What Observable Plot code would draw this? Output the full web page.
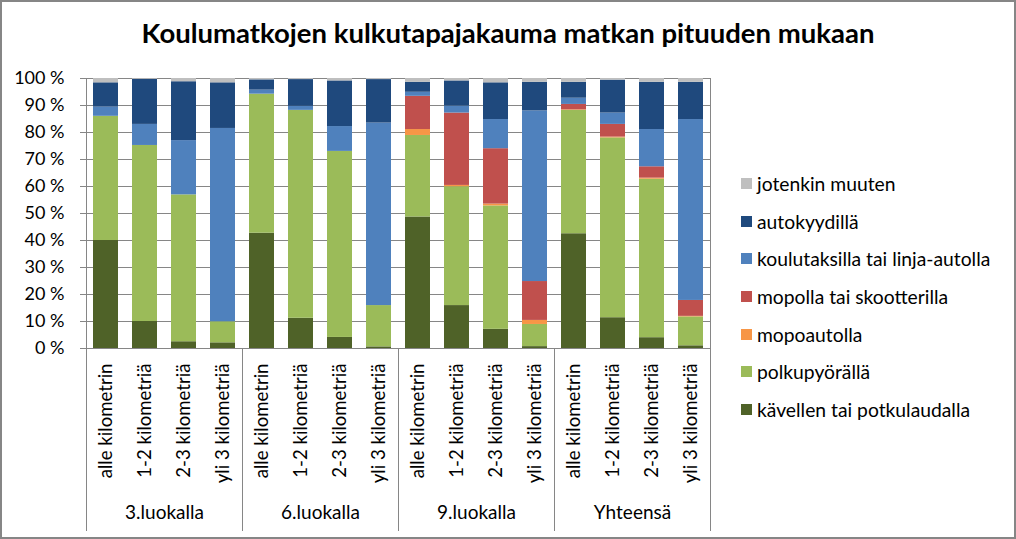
<!DOCTYPE html>
<html>
<head>
<meta charset="utf-8">
<script src="https://cdn.jsdelivr.net/npm/d3@7"></script>
<script src="https://cdn.jsdelivr.net/npm/@observablehq/plot@0.6"></script>
<style>
  html, body { margin: 0; padding: 0; background: #fff; }
  #chart { position: relative; width: 1016px; height: 539px; box-sizing: border-box; border: 2px solid #868686; background: #fff; font-family: Lato, "Open Sans", sans-serif; overflow: hidden; }
  #title { position: absolute; left: 0; top: 17px; width: 1012px; text-align: center; font-weight: bold; font-size: 27.5px; line-height: 28px; color: #000; }
  #plot { position: absolute; left: 0; top: 58px; }
  #legend { position: absolute; left: 739px; top: 163px; }
  .item { height: 37.6px; display: flex; align-items: center; font-size: 19.3px; color: #000; white-space: nowrap; }
  .sw { width: 11px; height: 11px; margin-right: 5px; flex: none; }
</style>
</head>
<body>
<div id="chart">
  <div id="title"></div>
  <div id="plot"></div>
  <div id="legend"></div>
</div>
<script>
const title = "Koulumatkojen kulkutapajakauma matkan pituuden mukaan";
const groups = ["3.luokalla", "6.luokalla", "9.luokalla", "Yhteensä"];
const distances = ["alle kilometrin", "1-2 kilometriä", "2-3 kilometriä", "yli 3 kilometriä"];
// stacked bottom to top
const seriesNames = ["kävellen tai potkulaudalla", "polkupyörällä", "mopoautolla", "mopolla tai skootterilla", "koulutaksilla tai linja-autolla", "autokyydillä", "jotenkin muuten"];
const seriesColors = ["#4F6228", "#9BBB59", "#F79646", "#C0504D", "#4F81BD", "#1F497D", "#BFBFBF"];
// values per bar, order: groups x distances
const kavellen   = [40.0, 10.0, 2.5, 2.1,  42.7, 11.2, 4.1, 0.6,  48.7, 15.9, 7.1, 0.7,  42.5, 11.4, 4.0, 1.0];
const polkupyora = [46.0, 65.2, 54.4, 7.8, 51.5, 77.0, 68.9, 15.3, 30.2, 44.0, 45.7, 8.2, 45.7, 66.6, 58.7, 10.7];
const mopoauto   = [0, 0, 0, 0,  0, 0, 0, 0,  2.2, 0.5, 0.7, 1.5,  0.2, 0.3, 0.4, 0.2];
const mopo       = [0, 0, 0, 0,  0, 0, 0, 0,  12.3, 26.8, 20.5, 14.4,  2.0, 4.7, 4.2, 5.9];
const taksi      = [3.4, 7.8, 20.1, 71.6,  1.5, 1.5, 9.2, 67.6,  1.5, 2.6, 10.8, 63.2,  2.3, 4.2, 13.8, 67.0];
const auto       = [9.0, 16.7, 21.8, 16.9,  3.8, 9.9, 16.9, 16.1,  3.7, 9.3, 13.6, 10.6,  5.9, 12.2, 17.5, 13.8];
const muuten     = [1.6, 0.3, 1.2, 1.6,  0.5, 0.4, 0.9, 0.4,  1.4, 0.9, 1.6, 1.4,  1.4, 0.6, 1.4, 1.4];
const yTicks = [0, 10, 20, 30, 40, 50, 60, 70, 80, 90, 100];

const seriesValues = [kavellen, polkupyora, mopoauto, mopo, taksi, auto, muuten];
const data = [];
seriesNames.forEach((s, si) => {
  groups.forEach((g, gi) => {
    distances.forEach((dist, di) => {
      data.push({series: s, group: g, dist, value: seriesValues[si][gi * 4 + di]});
    });
  });
});

document.getElementById("title").textContent = title;

const grid = "#868686";
const plot = Plot.plot({
  width: 716,
  height: 472,
  marginLeft: 84,
  marginRight: 8,
  marginTop: 18,
  marginBottom: 184,
  style: {fontFamily: "Lato, 'Open Sans', sans-serif", color: "#000", background: "transparent"},
  fx: {domain: groups, padding: 0, axis: null, label: null},
  x: {domain: distances, paddingInner: 0.36, paddingOuter: 0.18, axis: null, label: null},
  y: {domain: [0, 100], axis: null, label: null},
  color: {domain: seriesNames, range: seriesColors},
  marks: [
    Plot.gridY(yTicks, {stroke: grid, strokeOpacity: 1, strokeWidth: 1}),
    Plot.barY(data, Plot.stackY({x: "dist", fx: "group", y: "value", fill: "series", order: seriesNames})),
    Plot.axisY(yTicks, {anchor: "left", tickFormat: d => d + " %", tickSize: 6, tickPadding: 16, fontSize: 18, stroke: grid, label: null}),
    Plot.axisX({tickRotate: -90, tickSize: 0, tickPadding: 15, fontSize: 18.6, label: null}),
    Plot.frame({anchor: "left", stroke: grid, insetTop: 270, insetBottom: -182}),
    Plot.frame({anchor: "left", stroke: grid, facet: "super", insetBottom: -182}),
    Plot.frame({anchor: "right", stroke: grid, facet: "super", insetBottom: -182}),
    Plot.text(groups, {fx: d => d, text: d => d, frameAnchor: "bottom", dy: 170, fontSize: 19})
  ]
});
document.getElementById("plot").appendChild(plot);

const legend = document.getElementById("legend");
for (let i = seriesNames.length - 1; i >= 0; i--) {
  const it = document.createElement("div");
  it.className = "item";
  const sw = document.createElement("span");
  sw.className = "sw";
  sw.style.background = seriesColors[i];
  const tx = document.createElement("span");
  tx.textContent = seriesNames[i];
  it.appendChild(sw);
  it.appendChild(tx);
  legend.appendChild(it);
}
</script>
</body>
</html>
